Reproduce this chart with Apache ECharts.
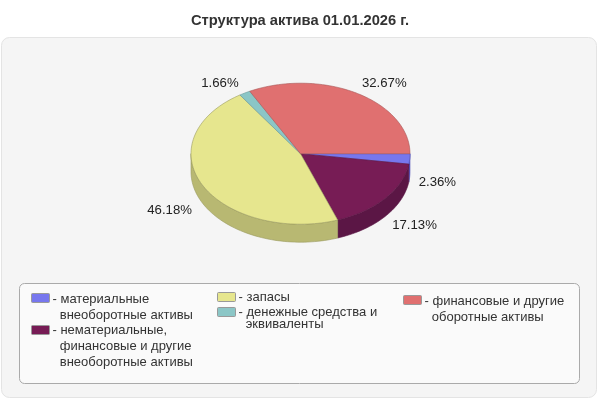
<!DOCTYPE html>
<html><head><meta charset="utf-8">
<style>html,body{margin:0;padding:0;background:#fff}#c{width:600px;height:400px}</style>
<script src="https://cdn.jsdelivr.net/npm/echarts@6/dist/echarts.min.js"></script>
</head><body><div id="c"></div>
<script>
const titleText = 'Структура актива 01.01.2026 г.';
const categories = ['материальные\nвнеоборотные активы','нематериальные,\nфинансовые и другие\nвнеоборотные активы','запасы','денежные средства и\nэквиваленты','финансовые и другие\nоборотные активы'];
const values = [2.36,17.13,46.18,1.66,32.67];
const topColors = ['#7777EE','#771C55','#E6E68E','#8BC6C6','#E07070'];
const sideColors = ['#5555CC','#5B1645','#B8B872','#6B9C9C','#B05858'];
const edgeColors = ['#5555BB','#5B1645','#9A9A60','#6B9C9C','#A85555'];
const legendPos = [[31,291,32,16,2],[31,322,48,16,3],[217,290,14,12,2],[217,305,26,12,2],[403,293,32,16,2]];

const RX=109.5, CX=300.5, CY=153.7, RY=70.5, DEPTH=18;
const squash = p => [p[0], CY+(p[1]-CY)*RY/RX];
function renderSlice(params, api){
  const start=api.value(1), end=api.value(2), i=params.seriesIndex;
  const pts=[]; const n=Math.max(2,Math.ceil((end-start)*2));
  for(let k=0;k<=n;k++){pts.push(squash(api.coord([1,start+(end-start)*k/n])));}
  const c=squash(api.coord([0,0]));
  const children=[];
  const s2=Math.max(start,0), e2=Math.min(end,50);
  if(e2>s2){
    const a=[]; const m=Math.max(2,Math.ceil((e2-s2)*2));
    for(let k=0;k<=m;k++){a.push(squash(api.coord([1,s2+(e2-s2)*k/m])));}
    const side=a.concat(a.slice().reverse().map(p=>[p[0],p[1]+DEPTH]));
    children.push({type:'polygon',shape:{points:side},style:{fill:sideColors[i],stroke:edgeColors[i],lineWidth:0.6},z2:1});
  }
  children.push({type:'polygon',shape:{points:[c].concat(pts)},style:{fill:topColors[i],stroke:edgeColors[i],lineWidth:0.6},z2:2});
  const mid=(start+end)/2, lp=squash(api.coord([1,mid]));
  const ux=(lp[0]-CX)/RX, uy=(lp[1]-CY)/RY;
  const right=ux>0;
  const lx=CX+ux*(RX+(right?9:12)), ly=CY+uy*(RY+11)+(uy>0?DEPTH+4.5*(1-uy):-0.5);
  children.push({type:'text',z2:5,style:{x:lx,y:ly,text:values[i].toFixed(2)+'%',fill:'#222',font:'13.2px "Liberation Sans",Arial,sans-serif',align:right?'left':'right',verticalAlign:'middle'}});
  return {type:'group',children};
}
let acc=0;
const series=categories.map((name,i)=>{
  const s=acc; acc+=values[i];
  return {type:'custom',name,coordinateSystem:'polar',renderItem:renderSlice,
    encode:{radius:0,angle:1},itemStyle:{color:topColors[i]},silent:true,
    data:[[1,s,acc]],animation:false,clip:false};
});
const legends=categories.map((name,i)=>{
  const [l,t,h,lh,o]=legendPos[i];
  return {left:l,top:t,padding:0,orient:'vertical',selectedMode:false,itemWidth:18,itemHeight:h,
    data:[{name,icon:`path://M0 0L0 0 M1 ${o}H17Q18 ${o} 18 ${o+1}V${o+8}Q18 ${o+9} 17 ${o+9}H1Q0 ${o+9} 0 ${o+8}V${o+1}Q0 ${o} 1 ${o}Z M0 ${h}L0 ${h}`}],
    itemStyle:{borderColor:'#999',borderWidth:1,color:'inherit'},
    formatter:n=>'- '+n.replace(/\n/g,'\n\u00a0\u00a0'),
    textStyle:{fontFamily:'"Liberation Sans",Arial,sans-serif',fontSize:13,color:'#333',lineHeight:lh,padding:[0,0,0,-2]}};
});
const chart=echarts.init(document.getElementById('c'),null,{renderer:'canvas'});
chart.setOption({
  animation:false,backgroundColor:'#fff',
  title:{text:titleText,left:'center',top:13,padding:0,textStyle:{fontFamily:'"Liberation Sans",Arial,sans-serif',fontSize:14.7,fontWeight:'bold',color:'#333'}},
  polar:{center:[CX,CY],radius:RX},
  angleAxis:{type:'value',min:0,max:100,startAngle:0,clockwise:true,show:false},
  radiusAxis:{type:'value',min:0,max:1,show:false},
  legend:legends,
  graphic:[
    {type:'rect',z:-2,silent:true,shape:{x:1.5,y:37.5,width:595,height:360,r:8},style:{fill:'#F5F5F5',stroke:'#E4E4E4',lineWidth:1}},
    {type:'rect',z:-1,silent:true,shape:{x:19.5,y:283.5,width:560,height:100,r:5},style:{fill:'#FAFAFA',stroke:'#AAAAAA',lineWidth:1}}
  ],
  series
});
</script></body></html>
